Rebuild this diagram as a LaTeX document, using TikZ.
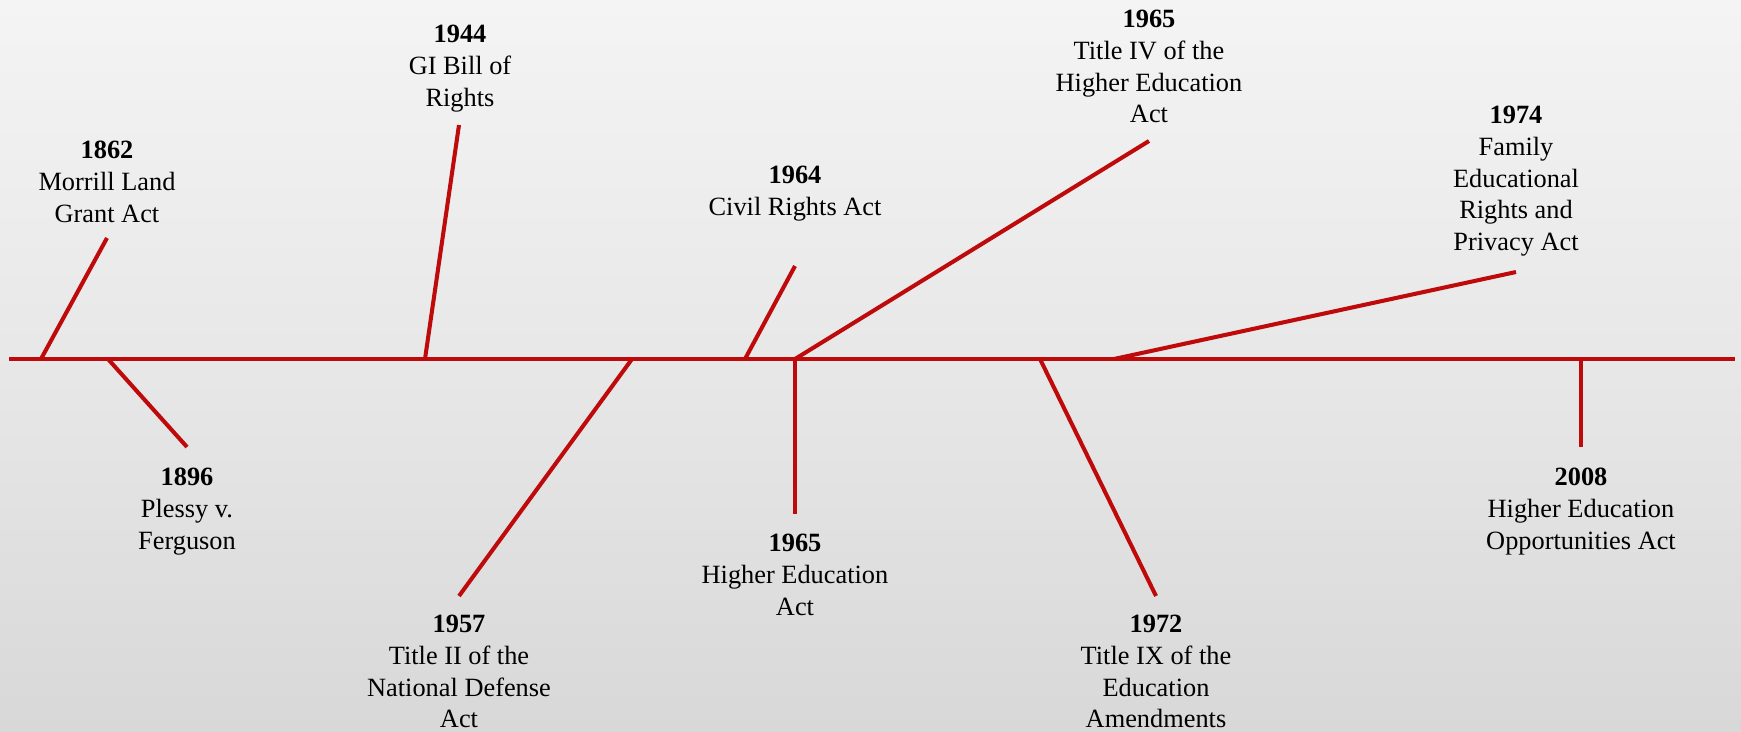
\documentclass[tikz,border=0pt]{standalone}
\usepackage{fontspec}
\setmainfont{Liberation Serif}
\usetikzlibrary{calc}
\definecolor{lawred}{HTML}{BE0A0A}
\definecolor{paperhi}{HTML}{F4F4F4}
\definecolor{paperlo}{HTML}{D8D8D8}
\tikzset{
  law/.style={anchor=north, align=center, inner sep=0pt, font=\fontsize{15}{18}\selectfont},
  tick/.style={draw=lawred, line width=2.3pt}
}

\begin{document}
\begin{tikzpicture}[x=0.02cm, y=-0.02cm]
		%%%%% START %%%%%
		\shade[top color=paperhi, bottom color=paperlo, middle color=paperhi!55!paperlo] (0, 0) rectangle (1741, 731);
		\useasboundingbox (0, 0) rectangle (1741, 731);
		
		% the time axis
		\coordinate (left) at (9, 359);
		\coordinate (right) at (1735, 359);
		\draw[tick] (left) -- (right);
		
		% above the axis
		\node[law] (y1862) at (107, 141) {\textbf{1862}\\Morrill Land\\Grant Act};
		\node[law] (y1944) at (460, 25) {\textbf{1944}\\GI Bill of\\Rights};
		\node[law] (y1964) at (795, 166) {\textbf{1964}\\Civil Rights Act};
		\node[law] (y1965t) at (1149, 10) {\textbf{1965}\\Title IV of the\\Higher Education\\Act};
		\node[law] (y1974) at (1516, 106) {\textbf{1974}\\Family\\Educational\\Rights and\\Privacy Act};
		
		% below the axis
		\node[law] (y1896) at (187, 468) {\textbf{1896}\\Plessy v.\\Ferguson};
		\node[law] (y1957) at (459, 615) {\textbf{1957}\\Title II of the\\National Defense\\Act};
		\node[law] (y1965h) at (795, 534) {\textbf{1965}\\Higher Education\\Act};
		\node[law] (y1972) at (1156, 615) {\textbf{1972}\\Title IX of the\\Education\\Amendments};
		\node[law] (y2008) at (1581, 468) {\textbf{2008}\\Higher Education\\Opportunities Act};
		
		% where the ticks meet the axis
		\coordinate (a1862) at (41, 359);
		\coordinate (a1896) at (108, 359);
		\coordinate (a1944) at (425, 359);
		\coordinate (a1957) at (632, 359);
		\coordinate (a1964) at (745, 359);
		\coordinate (a1965) at (795, 359);
		\coordinate (a1972) at (1040, 359);
		\coordinate (a1974) at (1114, 359);
		\coordinate (a2008) at (1581, 359);
		
		% free ends, just short of the labels
		\coordinate (e1862) at (107, 238);
		\coordinate (e1896) at (187, 447);
		\coordinate (e1944) at (459, 125);
		\coordinate (e1957) at (459, 596);
		\coordinate (e1964) at (795, 266);
		\coordinate (e1965t) at (1149, 141);
		\coordinate (e1965h) at (795, 514);
		\coordinate (e1972) at (1156, 596);
		\coordinate (e1974) at (1516, 272);
		\coordinate (e2008) at (1581, 447);
		
		\draw[tick] (a1862) -- (e1862);
		\draw[tick] (a1896) -- (e1896);
		\draw[tick] (a1944) -- (e1944);
		\draw[tick] (a1957) -- (e1957);
		\draw[tick] (a1964) -- (e1964);
		\draw[tick] (a1965) -- (e1965t);
		\draw[tick] (a1965) -- (e1965h);
		\draw[tick] (a1972) -- (e1972);
		\draw[tick] (a1974) -- (e1974);
		\draw[tick] (a2008) -- (e2008);
		%%%%% END %%%%%
\end{tikzpicture}
\end{document}
